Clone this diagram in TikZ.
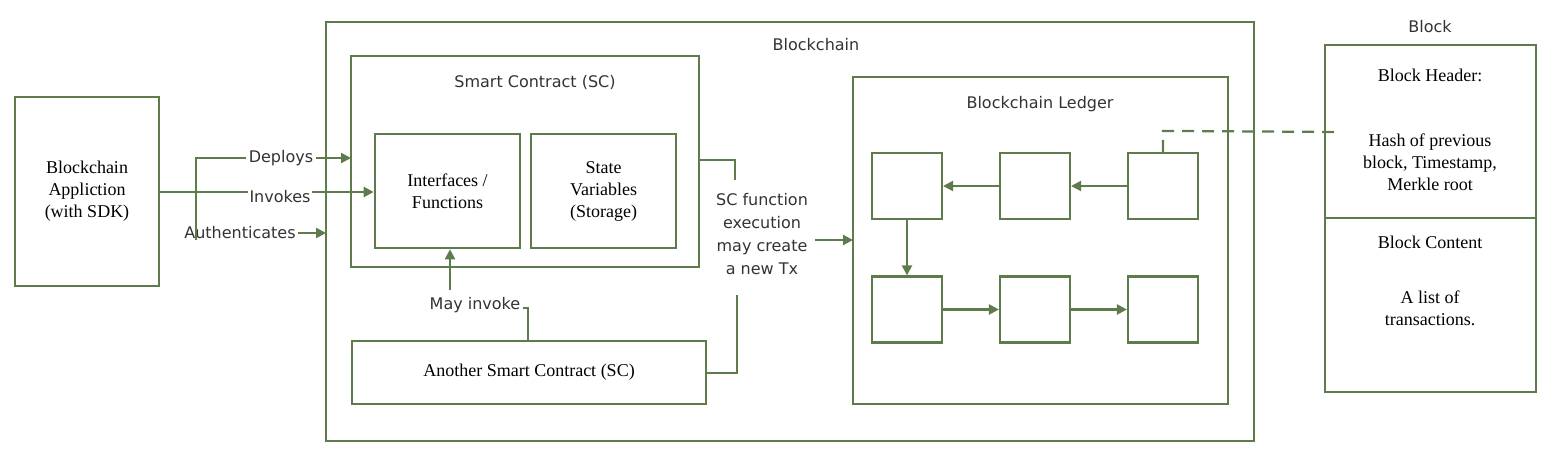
\documentclass[tikz,border=0pt]{standalone}
\usepackage{fontspec}
\setmainfont{Liberation Serif}
\newfontfamily\sans{DejaVu Sans}
\usetikzlibrary{arrows.meta}
\definecolor{gr}{HTML}{5E7B4C}
\begin{document}
\begin{tikzpicture}[x=0.5pt,y=-0.5pt,
 box/.style={draw=gr,line width=1.3pt},
 blk/.style={draw=gr,line width=1.1pt,minimum width=35pt,minimum height=33pt,inner sep=0pt},
 ln/.style={draw=gr,line width=1.1pt},
 ar/.style={ln,-{Triangle[length=5pt,width=5pt]}},
 st/.style={font=\sans\fontsize{8}{10}\selectfont,text=black!80,inner sep=1pt},
 sf/.style={font=\fontsize{9}{11}\selectfont,align=center}]
\useasboundingbox (0,0) rectangle (1554,460);
% boxes
\node[box,sf,minimum width=72pt,minimum height=94.5pt] (app) at (87,191.5) {Blockchain\\Appliction\\(with SDK)};
\draw[box] (326,22) rectangle (1254,441);
\node[st] (bcl) at (816,45) {Blockchain};
\draw[box] (351,56) rectangle (699,267);
\coordinate (scL) at (351,158);
\node[st] at (535,82) {Smart Contract (SC)};
\node[box,sf,minimum width=72.5pt,minimum height=57pt] (ifc) at (447.5,191) {Interfaces /\\Functions};
\node[box,sf,minimum width=72.5pt,minimum height=57pt] (sv) at (603.5,191) {State\\Variables\\(Storage)};
\node[box,sf,minimum width=177pt,minimum height=31.5pt] (asc) at (529,372.5) {Another Smart Contract (SC)};
\draw[box] (853,77) rectangle (1228,404);
\node[st] at (1040,104) {Blockchain Ledger};
\coordinate (ledL) at (853,240);
\coordinate (bcL) at (326,233);
% ledger blocks
\node[blk] (a1) at (907,186) {};
\node[blk] (a2) at (1035,186) {};
\node[blk] (a3) at (1163,186) {};
\node[blk] (b1) at (907,309.5) {};
\node[blk] (b2) at (1035,309.5) {};
\node[blk] (b3) at (1163,309.5) {};
\draw[ar] (a3) -- (a2);
\draw[ar] (a2) -- (a1);
\draw[ar] (a1) -- (b1);
\draw[ar] (b1) -- (b2);
\draw[ar] (b2) -- (b3);
% block box
\node[st] at (1430,27) {Block};
\draw[box] (1325,45) rectangle (1536,392);
\draw[box] (1325,218) -- (1536,218);
\node[sf] at (1430,75) {Block Header:};
\node[sf] (hash) at (1430,162) {Hash of previous\\block, Timestamp,\\Merkle root};
\node[sf] at (1430,242) {Block Content};
\node[sf] at (1430,308) {A list of\\transactions.};
\draw[ln,dashed,dash pattern=on 6pt off 4pt] (a3.north) -- ++(0,-21) -- (1338,132);
% app connectors
\node[st,fill=white] (inv) at (280,197) {Invokes};
\draw[ar] (app.east |- 0,192) -- (ifc.west |- 0,192);
\node[st,fill=white] at (280,197) {Invokes};
\node[st] (dep) at (281,158) {Deploys};
\node[st] (aut) at (240,233) {Authenticates};
\draw[ln] (196,240) -- (196,158) -- (dep.west);
\draw[ar] (dep.east) -- (scL);
\draw[ar] (aut.east) -- (bcL);
% SC to ledger
\node[st,align=center,font=\sans\fontsize{8}{11.5}\selectfont] (tx) at (762,234) {SC function\\execution\\may create\\a new Tx};
\draw[ln] (699,160) -- (735,160) -- (735,180);
\draw[ln] (737,295) -- (737,373) -- (asc.east |- 0,373);
\draw[ar] (815,240) -- (ledL);
% may invoke
\node[st] (may) at (475,305) {May invoke};
\draw[ln] (asc.north -| 528,0) -- (528,308) -- (may.east |- 0,308);
\draw[ar] (450,290) -- (ifc.south -| 450,0);
\end{tikzpicture}
\end{document}
